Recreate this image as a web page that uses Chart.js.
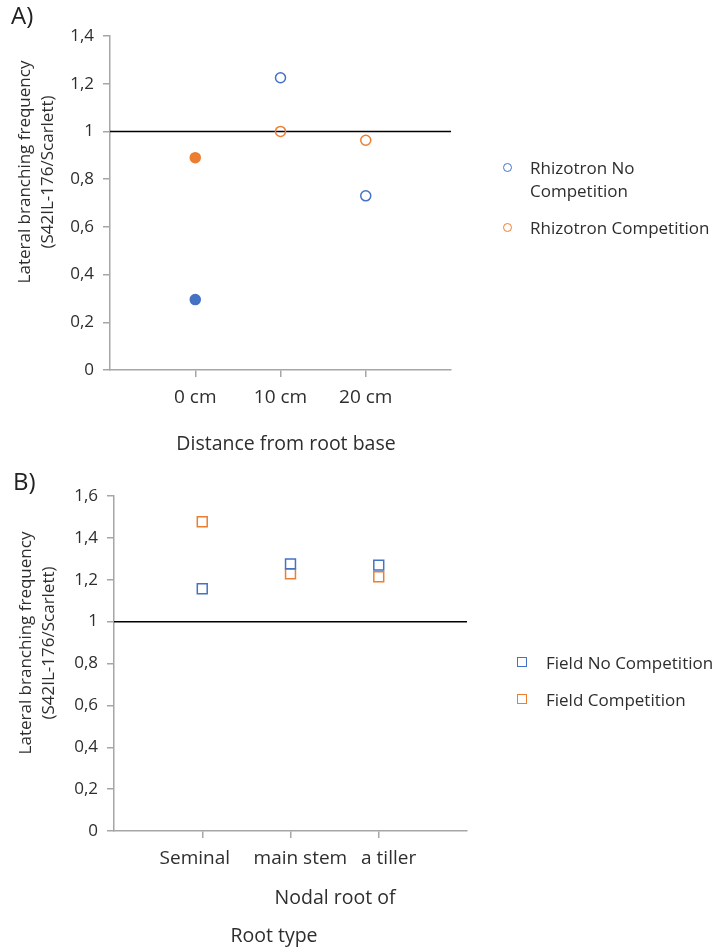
<!DOCTYPE html>
<html><head><meta charset="utf-8">
<script src="https://cdn.jsdelivr.net/npm/chart.js@4"></script>
<style>
html,body{margin:0;padding:0;background:#fff;}
#wrap{position:relative;width:715px;height:949px;overflow:hidden;font-family:"Open Sans",sans-serif;}
.box{position:absolute;left:0;}
.leg{position:absolute;font-size:17px;color:#2e2e2e;line-height:23px;white-space:nowrap;}
.mk{position:absolute;box-sizing:border-box;}
</style></head><body>
<div id="wrap">
  <div class="box" style="top:0;width:715px;height:460px"><canvas id="cA" width="715" height="460"></canvas></div>
  <div class="box" style="top:460px;width:715px;height:489px"><canvas id="cB" width="715" height="489"></canvas></div>
  <div id="legends"></div>
</div>
<script>
// ---- data ----
const distanceLabels = ['0 cm', '10 cm', '20 cm'];
const rhizoNoComp = [0.295, 1.225, 0.73];
const rhizoComp = [0.89, 1.0, 0.963];
const rhizoFilled = [true, false, false];
const rootTypeLabels = ['Seminal', 'main stem', 'a tiller'];
const fieldNoComp = [1.157, 1.276, 1.27];
const fieldComp = [1.477, 1.228, 1.214];
const referenceValue = 1;
const yMaxA = 1.4, yMaxB = 1.6, yStep = 0.2;

const BLUE = '#4472C4', ORANGE = '#ED7D31', AXIS = '#a6a6a6', TXT = '#2e2e2e';
const FONT = '"Open Sans", sans-serif';

const fmt = v => Number(v.toFixed(1)).toString().replace('.', ',');
const NB = '\u00A0';
// label nudge in spaces (negative = shift left, positive = shift right)
const shiftLabel = (txt, n) => n > 0 ? NB.repeat(n) + txt : txt + NB.repeat(-n);

const textPlugin = {
  id: 'texts',
  afterDraw(chart, args, opts) {
    const ctx = chart.ctx;
    (opts.items || []).forEach(t => {
      ctx.save();
      ctx.font = (t.weight || 'normal') + ' ' + t.size + 'px ' + FONT;
      ctx.fillStyle = t.color || TXT;
      ctx.textAlign = t.align || 'center';
      ctx.textBaseline = 'middle';
      ctx.translate(t.x, t.y);
      if (t.rot) ctx.rotate(t.rot);
      ctx.fillText(t.text, 0, 0);
      ctx.restore();
    });
  }
};

function scatterSet(label, values, color, style, radius, filled) {
  return {
    type: 'scatter', label, order: 1,
    data: values.map((v, i) => ({x: i + 1, y: v})),
    pointStyle: style, pointRadius: radius, pointHoverRadius: radius,
    pointBorderWidth: 1.5, borderColor: color,
    pointBorderColor: color,
    pointBackgroundColor: values.map((v, i) => filled && filled[i] ? color : 'rgba(255,255,255,0)')
  };
}

function makeChart(id, cats, sets, yMax, area, texts, nudge) {
  const H = document.getElementById(id).height;
  return new Chart(document.getElementById(id), {
    type: 'scatter',
    data: {
      datasets: [
        ...sets,
        { type: 'line', label: 'ref', order: 10, data: [{x: 0, y: referenceValue}, {x: 4, y: referenceValue}],
          borderColor: '#000', borderWidth: 1.5, pointRadius: 0, fill: false }
      ]
    },
    options: {
      responsive: false, animation: false, devicePixelRatio: 1,
      layout: { padding: { left: 0, top: area.top, right: 715 - area.right, bottom: 0 } },
      plugins: { legend: { display: false }, tooltip: { enabled: false }, texts: { items: texts } },
      scales: {
        x: {
          type: 'linear', min: 0, max: 4,
          afterBuildTicks: ax => { ax.ticks = cats.map((c, i) => ({value: i + 1})); },
          afterFit: s => { s.height = H - area.bottom; },
          ticks: { callback: v => cats[v - 1] !== undefined ? shiftLabel(cats[v - 1], nudge[v - 1]) : '',
                   color: TXT, font: { family: FONT, size: 19 }, padding: 9, maxRotation: 0, autoSkip: false },
          grid: { drawOnChartArea: false, drawTicks: true, tickLength: 7, color: AXIS, lineWidth: 1.5 },
          border: { display: true, color: AXIS, width: 1.5 }
        },
        y: {
          min: 0, max: yMax,
          afterFit: s => { s.width = area.left; },
          ticks: { stepSize: yStep, callback: v => fmt(v), color: TXT, font: { family: FONT, size: 17 }, padding: 9 },
          grid: { drawOnChartArea: false, drawTicks: true, tickLength: 7, color: AXIS, lineWidth: 1.5 },
          border: { display: true, color: AXIS, width: 1.5 }
        }
      }
    },
    plugins: [textPlugin]
  });
}

const setsA = [
  scatterSet('Rhizotron No Competition', rhizoNoComp, BLUE, 'circle', 5, rhizoFilled),
  scatterSet('Rhizotron Competition', rhizoComp, ORANGE, 'circle', 5, rhizoFilled)
];
const setsB = [
  scatterSet('Field No Competition', fieldNoComp, BLUE, 'rect', 7, null),
  scatterSet('Field Competition', fieldComp, ORANGE, 'rect', 7, null)
];

makeChart('cA', distanceLabels, setsA, yMaxA, {left: 110, right: 451, top: 36, bottom: 370}, [
  {text: 'A)', x: 11, y: 17, size: 24, align: 'left', color: '#222'},
  {text: 'Lateral branching frequency', x: 25, y: 172, size: 17, rot: -Math.PI / 2},
  {text: '(S42IL-176/Scarlett)', x: 48, y: 172, size: 17, rot: -Math.PI / 2},
  {text: 'Distance from root base', x: 286, y: 444, size: 19.5}
], [0, 0, 0]);
makeChart('cB', rootTypeLabels, setsB, yMaxB, {left: 114, right: 467, top: 36, bottom: 371}, [
  {text: 'B)', x: 13, y: 23, size: 24, align: 'left', color: '#222'},
  {text: 'Lateral branching frequency', x: 26, y: 183, size: 17, rot: -Math.PI / 2},
  {text: '(S42IL-176/Scarlett)', x: 49, y: 183, size: 17, rot: -Math.PI / 2},
  {text: 'Nodal root of', x: 335, y: 438, size: 19.5},
  {text: 'Root type', x: 274, y: 476, size: 19.5}
], [-3, 4, 4]);

// ---- HTML legends built from dataset labels ----
const leg = document.getElementById('legends');
function addLegend(sets, mx, tx, rows, shape) {
  sets.forEach((s, i) => {
    const r = rows[i];
    const m = document.createElement('div');
    m.className = 'mk';
    const sz = shape === 'circle' ? 9 : 10;
    m.style.cssText = `left:${mx - sz / 2}px;top:${r.mark - sz / 2}px;width:${sz}px;height:${sz}px;border:1.5px solid ${s.borderColor};border-radius:${shape === 'circle' ? '50%' : '0'}`;
    leg.appendChild(m);
    const t = document.createElement('div');
    t.className = 'leg';
    t.style.left = tx + 'px';
    t.style.top = (r.mark - 11.5) + 'px';
    t.innerHTML = r.lines ? s.label.replace(' Competition', '<br>Competition') : s.label;
    leg.appendChild(t);
  });
}
addLegend(setsA, 507, 530, [{mark: 167, lines: true}, {mark: 227}], 'circle');
addLegend(setsB, 522, 546, [{mark: 662}, {mark: 699}], 'rect');
</script>
</body></html>
